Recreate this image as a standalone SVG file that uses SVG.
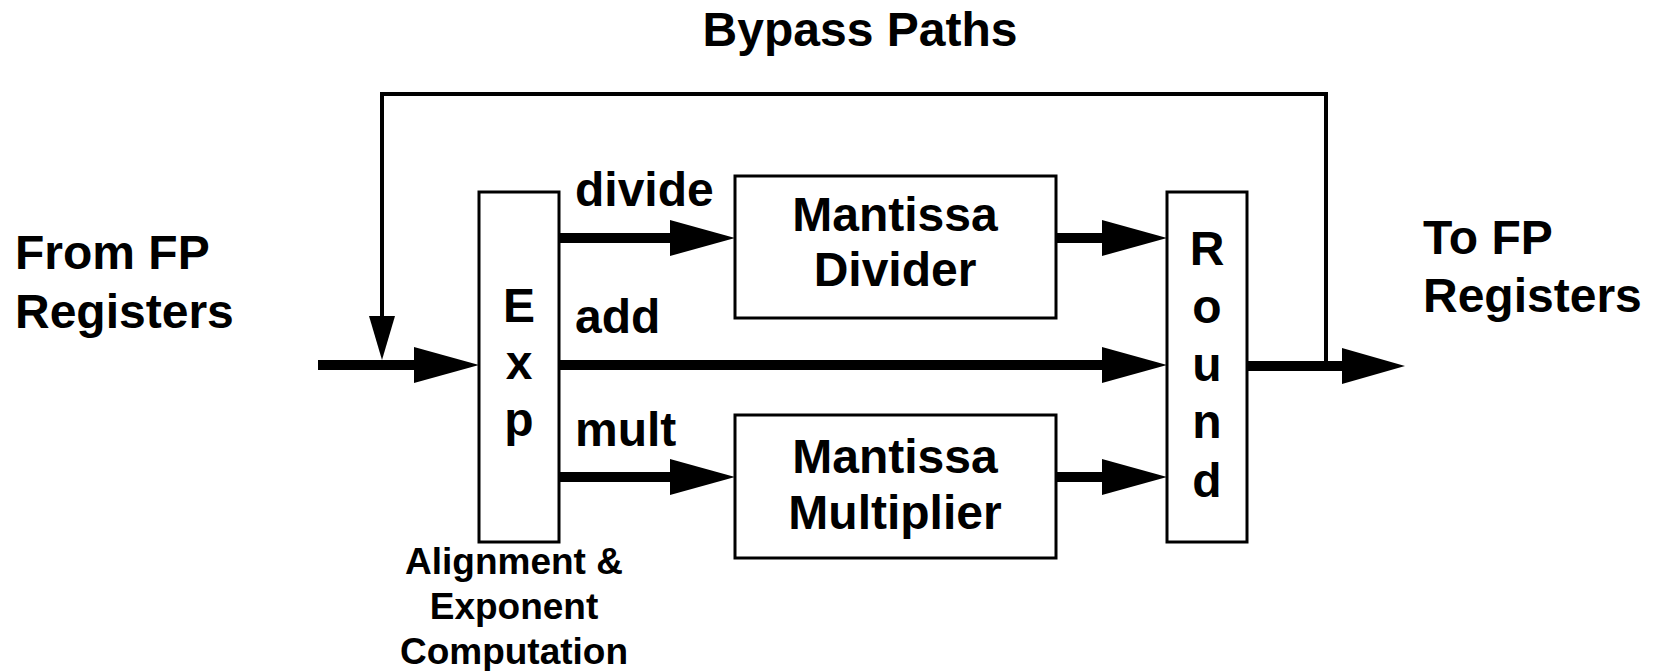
<svg xmlns="http://www.w3.org/2000/svg" width="1654" height="671" viewBox="0 0 1654 671">
<style>
text{font-family:"Liberation Sans",Arial,sans-serif;font-weight:bold;fill:#000}
.t{font-size:48px}
.s{font-size:37px}
.c{text-anchor:middle}
.box{fill:#fff;stroke:#000;stroke-width:3}
.thick{stroke:#000;stroke-width:10;fill:none}
.thin{stroke:#000;stroke-width:4;fill:none}
.ah{fill:#000}
</style>
<rect width="1654" height="671" fill="#fff"/>
<g id="labels">
<text class="t c" x="860" y="46">Bypass Paths</text>
<text class="t" x="15" y="269">From FP</text>
<text class="t" x="15" y="328">Registers</text>
<text class="t" x="1423" y="254">To FP</text>
<text class="t" x="1423" y="312">Registers</text>
<text class="t" x="575" y="206">divide</text>
<text class="t" x="575" y="333">add</text>
<text class="t" x="575" y="446">mult</text>
<text class="s c" x="514" y="574">Alignment &amp;</text>
<text class="s c" x="514" y="619">Exponent</text>
<text class="s c" x="514" y="664">Computation</text>
</g>
<g id="connectors">
<polyline class="thin" points="382,322 382,94 1326,94 1326,362"/>
<polygon class="ah" points="369,316 395,316 382,360"/>
<line class="thick" x1="318" y1="365" x2="416" y2="365"/>
<polygon class="ah" points="414,347 479,365 414,383"/>
<line class="thick" x1="559" y1="238" x2="672" y2="238"/>
<polygon class="ah" points="670,220 735,238 670,256"/>
<line class="thick" x1="559" y1="365" x2="1104" y2="365"/>
<polygon class="ah" points="1102,347 1167,365 1102,383"/>
<line class="thick" x1="559" y1="477" x2="672" y2="477"/>
<polygon class="ah" points="670,459 735,477 670,495"/>
<line class="thick" x1="1056" y1="238" x2="1104" y2="238"/>
<polygon class="ah" points="1102,220 1167,238 1102,256"/>
<line class="thick" x1="1056" y1="477" x2="1104" y2="477"/>
<polygon class="ah" points="1102,459 1167,477 1102,495"/>
<line class="thick" x1="1247" y1="366" x2="1344" y2="366"/>
<polygon class="ah" points="1342,348 1405,366 1342,384"/>
</g>
<g id="exp">
<rect class="box" x="479" y="192" width="80" height="350"/>
<text class="t c" x="519" y="322">E</text>
<text class="t c" x="519" y="379">x</text>
<text class="t c" x="519" y="436">p</text>
</g>
<g id="divider">
<rect class="box" x="735" y="176" width="321" height="142"/>
<text class="t c" x="895" y="231">Mantissa</text>
<text class="t c" x="895" y="286">Divider</text>
</g>
<g id="multiplier">
<rect class="box" x="735" y="415" width="321" height="143"/>
<text class="t c" x="895" y="473">Mantissa</text>
<text class="t c" x="895" y="529">Multiplier</text>
</g>
<g id="round">
<rect class="box" x="1167" y="192" width="80" height="350"/>
<text class="t c" x="1207" y="265">R</text>
<text class="t c" x="1207" y="323">o</text>
<text class="t c" x="1207" y="381">u</text>
<text class="t c" x="1207" y="438">n</text>
<text class="t c" x="1207" y="497">d</text>
</g>
</svg>
